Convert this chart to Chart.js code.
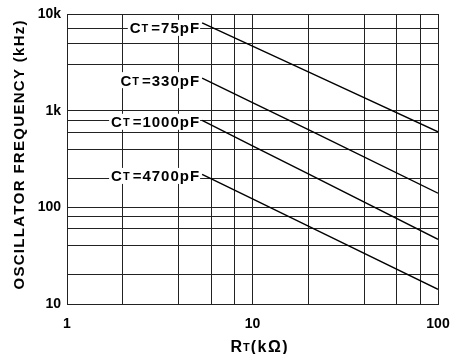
<!DOCTYPE html>
<html>
<head>
<meta charset="utf-8">
<script src="https://cdn.jsdelivr.net/npm/chart.js@4/dist/chart.umd.min.js"></script>
<style>
    html, body { margin: 0; padding: 0; background: #fff; }
    #wrap { width: 450px; height: 354px; position: relative; }
</style>
</head>
<body>
<div id="wrap"><canvas id="oscChart"></canvas></div>
<script>
// Rt in kOhm, frequency in kHz
const rtValues = [5.35, 10, 20, 100];
const freq75pF = [8100, 4650, 2520, 605];
const freq330pF = [2170, 1210, 635, 140];
const freq1000pF = [795, 433, 222, 46.7];
const freq4700pF = [219, 122, 64, 14.2];
const capLabels = ['75pF', '330pF', '1000pF', '4700pF'];

// grid lines as drawn on the original graph paper
const xGrid = [1, 2, 4, 6, 8, 10, 20, 40, 60, 80, 100];
const yGrid = [10, 20, 40, 60, 80, 100, 200, 400, 600, 800, 1000, 3000, 5000, 7000, 10000];
const xTickText = { 1: '1', 10: '10', 100: '100' };
const yTickText = { 10: '10', 100: '100', 1000: '1k', 10000: '10k' };

const allSeries = [freq75pF, freq330pF, freq1000pF, freq4700pF];
const labelNudge = [5, 2, 1.5, 1.5]; // label centre below the curve start, px

const FONT = '"Liberation Sans", Arial, sans-serif';
const GRID = '#222';

// canvas letterSpacing isn't reliable everywhere, so space the glyphs by hand
function spacedWidth(ctx, text, gap) {
    let w = 0;
    for (const ch of text) w += ctx.measureText(ch).width + gap;
    return w - gap;
}
function drawSpaced(ctx, text, x, y, gap) {
    for (const ch of text) {
        ctx.fillText(ch, x, y);
        x += ctx.measureText(ch).width + gap;
    }
    return x;
}

function drawCT(ctx, cap, right, cy) {
    const big = 'bold 15px ' + FONT;
    const small = 'bold 11px ' + FONT;
    const gap = 1;
    ctx.save();
    ctx.textAlign = 'left';
    ctx.font = big;
    const wC = ctx.measureText('C').width + gap;
    const wRest = spacedWidth(ctx, '=' + cap, gap);
    ctx.font = small;
    const wT = ctx.measureText('T').width + 3;
    const total = wC + wT + wRest;
    const left = right - total;

    ctx.fillStyle = '#fff';
    ctx.fillRect(left - 2, cy - 8, total + 3, 16);

    ctx.fillStyle = '#000';
    ctx.textBaseline = 'alphabetic';
    const base = cy + 5.5;
    ctx.font = big;
    ctx.fillText('C', left, base);
    ctx.font = small;
    ctx.fillText('T', left + wC, base - 1);
    ctx.font = big;
    drawSpaced(ctx, '=' + cap, left + wC + wT, base, gap);
    ctx.restore();
}

const textPlugin = {
    id: 'textPlugin',
    afterDraw(chart) {
        const ctx = chart.ctx;
        const xs = chart.scales.x;
        const ys = chart.scales.y;

        // curve labels, right aligned to where each curve begins
        allSeries.forEach((vals, i) => {
            const px = xs.getPixelForValue(rtValues[0]);
            const py = ys.getPixelForValue(vals[0]);
            drawCT(ctx, capLabels[i], px - 3, py + labelNudge[i]);
        });

        // y axis title
        ctx.save();
        ctx.translate(20, 155);
        ctx.rotate(-Math.PI / 2);
        ctx.font = 'bold 15px ' + FONT;
        ctx.fillStyle = '#000';
        ctx.textAlign = 'left';
        ctx.textBaseline = 'middle';
        const title = 'OSCILLATOR FREQUENCY (kHz)';
        const wTitle = spacedWidth(ctx, title, 1.3);
        drawSpaced(ctx, title, -wTitle / 2, 0, 1.3);
        ctx.restore();

        // x axis title: R with small T, then (kΩ)
        ctx.save();
        ctx.fillStyle = '#000';
        ctx.textAlign = 'left';
        ctx.font = 'bold 16px ' + FONT;
        const wR = ctx.measureText('R').width + 1;
        const wUnit = spacedWidth(ctx, '(kΩ)', 1.5);
        ctx.font = 'bold 11px ' + FONT;
        const wT = ctx.measureText('T').width + 1;
        const start = 259 - (wR + wT + wUnit) / 2;
        ctx.font = 'bold 16px ' + FONT;
        ctx.fillText('R', start, 352);
        ctx.font = 'bold 11px ' + FONT;
        ctx.fillText('T', start + wR, 351);
        ctx.font = 'bold 16px ' + FONT;
        drawSpaced(ctx, '(kΩ)', start + wR + wT, 352, 1.5);
        ctx.restore();
    }
};

const tickFont = { family: FONT, size: 14, weight: 'bold' };

new Chart(document.getElementById('oscChart'), {
    type: 'line',
    data: {
        datasets: allSeries.map((vals, i) => ({
            label: capLabels[i],
            data: rtValues.map((r, j) => ({ x: r, y: vals[j] })),
            borderColor: '#000',
            borderWidth: 1.4,
            pointRadius: 0,
            tension: 0,
            fill: false
        }))
    },
    options: {
        responsive: true,
        maintainAspectRatio: false,
        animation: false,
        layout: { padding: { top: 14, right: 12, left: 0, bottom: 0 } },
        plugins: {
            legend: { display: false },
            tooltip: { enabled: false }
        },
        scales: {
            x: {
                type: 'logarithmic',
                min: 1,
                max: 100,
                afterBuildTicks: scale => { scale.ticks = xGrid.map(v => ({ value: v })); },
                afterFit: scale => {
                    scale.height = 50;
                    scale.paddingLeft = 0;
                    scale.paddingRight = 0;
                },
                ticks: {
                    autoSkip: false,
                    maxRotation: 0,
                    padding: 12,
                    color: '#000',
                    font: tickFont,
                    callback: v => xTickText[v] ?? ''
                },
                grid: { color: GRID, lineWidth: 1, drawTicks: false },
                border: { color: GRID, width: 1 }
            },
            y: {
                type: 'logarithmic',
                min: 10,
                max: 10000,
                afterBuildTicks: scale => { scale.ticks = yGrid.map(v => ({ value: v })); },
                afterFit: scale => {
                    scale.width = 67;
                    scale.paddingTop = 0;
                    scale.paddingBottom = 0;
                },
                ticks: {
                    autoSkip: false,
                    padding: 6,
                    color: '#000',
                    font: tickFont,
                    callback: v => yTickText[v] ?? ''
                },
                grid: { color: GRID, lineWidth: 1, drawTicks: false },
                border: { color: GRID, width: 1 }
            }
        }
    },
    plugins: [textPlugin]
});
</script>
</body>
</html>
